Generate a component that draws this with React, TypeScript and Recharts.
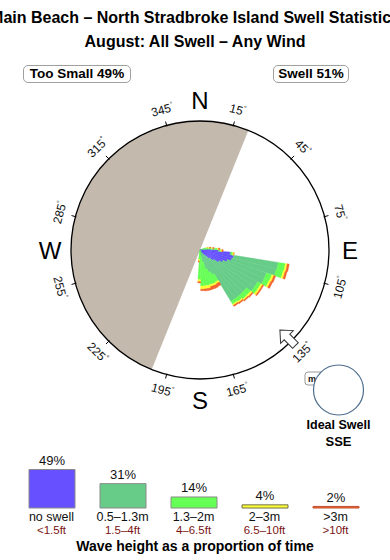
import React from 'react';
import {
  PieChart, Pie, RadialBarChart, RadialBar, PolarAngleAxis, PolarRadiusAxis,
  BarChart, Bar, XAxis, YAxis, LabelList, Cell,
} from 'recharts';

const TITLE = 'Main Beach – North Stradbroke Island Swell Statistics';
const SUBTITLE = 'August: All Swell – Any Wind';
const TOO_SMALL_PCT = 49;
const SWELL_PCT = 51;

// swell rose, 5 degree bins (bearing where each bin starts)
const ROSE_DIRS = [70, 75, 80, 85, 90, 95, 100, 105, 110, 115, 120, 125, 130, 135, 140, 145, 150, 155, 160, 165, 170, 175, 180, 185];
const ROSE_NO_SWELL = [0, 0, 0.3, 1.6, 2.8, 4.7, 5.3, 5.1, 4.5, 3.9, 3.4, 2.6, 1.9, 1.2, 0.8, 0.5, 0, 0, 0, 0, 0, 0, 0, 0];
const ROSE_SMALL = [0.5, 0.8, 0.9, 0.6, 0.2, 0.2, 7.0, 7.1, 6.4, 7.0, 6.8, 7.6, 7.4, 8.1, 8.5, 8.8, 4.3, 3.7, 3.1, 1.9, 0.9, 0.5, 0.3, 0.2];
const ROSE_MEDIUM = [0.5, 0.5, 0.6, 0.5, 0.2, 0.2, 1.1, 1.1, 0.9, 0.8, 0.6, 0.6, 0.8, 0.8, 0.6, 0.5, 1.2, 1.9, 2.5, 3.7, 4.7, 5.1, 4.3, 1.2];
const ROSE_LARGE = [0.2, 0.2, 0.2, 0.2, 0.2, 0.2, 0.3, 0.3, 0.3, 0.3, 0.3, 0.3, 0.3, 0.2, 0.2, 0.2, 0.3, 0.3, 0.3, 0.5, 0.5, 0.5, 0.3, 0.3];
const ROSE_HUGE = [0, 0.2, 0.2, 0.2, 0.2, 0, 0.3, 0.3, 0.3, 0.3, 0.2, 0.2, 0.2, 0.2, 0.2, 0.2, 0.5, 0.5, 0.5, 0.3, 0.3, 0.2, 0.2, 0.2];
const ROSE_MAX = 20;

// shaded land half (bearings)
const LAND_FROM = 202;
const LAND_TO = 22;

const DEGREE_LABELS = [15, 45, 75, 105, 135, 165, 195, 225, 255, 285, 315, 345];
const COMPASS_DIRS = [0, 90, 180, 270];
const COMPASS_LABELS = ['N', 'E', 'S', 'W'];

const IDEAL_DIR = 'SSE';
const IDEAL_ARROW_BEARING = 135;

const HEIGHT_BANDS = ['no swell', '0.5–1.3m', '1.3–2m', '2–3m', '>3m'];
const HEIGHT_FEET = ['<1.5ft', '1.5–4ft', '4–6.5ft', '6.5–10ft', '>10ft'];
const HEIGHT_PCT = [49, 31, 14, 4, 2];

const COLORS = ['#6650ff', '#66cc88', '#66ff55', '#ffff33', '#f2622e'];
const LEGEND_STROKES = ['#8a8a8a', '#8a8a8a', '#8a8a8a', '#6e6e50', '#c4502e'];
const LAND = '#c4b9ad';

const CX = 200;
const CY = 250;
const R = 129;

const roseData = Array.from({ length: 72 }, (_, i) => {
  const dir = i * 5;
  const k = ROSE_DIRS.indexOf(dir);
  return {
    dir,
    none: k < 0 ? 0 : ROSE_NO_SWELL[k],
    small: k < 0 ? 0 : ROSE_SMALL[k],
    medium: k < 0 ? 0 : ROSE_MEDIUM[k],
    large: k < 0 ? 0 : ROSE_LARGE[k],
    huge: k < 0 ? 0 : ROSE_HUGE[k],
  };
});
const roseKeys = ['none', 'small', 'medium', 'large', 'huge'];

const legendData = HEIGHT_BANDS.map((band, i) => ({ band, feet: HEIGHT_FEET[i], pct: HEIGHT_PCT[i] }));

const polar = (cx: number, cy: number, r: number, bearing: number) => {
  const a = (bearing * Math.PI) / 180;
  return { x: cx + r * Math.sin(a), y: cy - r * Math.cos(a) };
};

const AngleTick = (props: any) => {
  const { payload } = props;
  const cx = typeof props.cx === 'number' ? props.cx : CX;
  const cy = typeof props.cy === 'number' ? props.cy : CY;
  const b = Number(payload.value);
  const parts: React.ReactNode[] = [];
  if (DEGREE_LABELS.includes(b)) {
    const p1 = polar(cx, cy, R - 1, b);
    const p2 = polar(cx, cy, R + 4, b);
    const t = polar(cx, cy, R + 16, b);
    const rot = b >= 270 || b <= 90 ? b : b - 180;
    parts.push(<line key="l" x1={p1.x} y1={p1.y} x2={p2.x} y2={p2.y} stroke="#000" strokeWidth={1} />);
    parts.push(
      <text key="t" x={t.x} y={t.y} transform={`rotate(${rot} ${t.x} ${t.y})`} textAnchor="middle"
        dominantBaseline="central" fontSize={12} fill="#111">
        {b}<tspan dy={-4} fontSize={7}>°</tspan>
      </text>
    );
  }
  const c = COMPASS_DIRS.indexOf(b);
  if (c >= 0) {
    const t = polar(cx, cy, R + 21, b);
    parts.push(
      <text key="c" x={t.x} y={t.y} textAnchor="middle" dominantBaseline="central" fontSize={24} fill="#000">
        {COMPASS_LABELS[c]}
      </text>
    );
  }
  return <g>{parts}</g>;
};

const HeightTick = (props: any) => {
  const { x, y, payload } = props;
  const i = payload.index;
  return (
    <g>
      <text x={x} y={y + 4.5} textAnchor="middle" fontSize={12.5} fill="#111">{HEIGHT_BANDS[i]}</text>
      <text x={x} y={y + 18} textAnchor="middle" fontSize={11.5} fill="#7a1414">{HEIGHT_FEET[i]}</text>
    </g>
  );
};

const boxStyle: React.CSSProperties = {
  position: 'absolute', top: 65, height: 16, border: '1px solid #a0a0a0', borderRadius: 5,
  fontSize: 13.5, fontWeight: 'bold', lineHeight: '16px', textAlign: 'center', background: '#fff',
};

const arrowTip = polar(CX, CY, 113, IDEAL_ARROW_BEARING);

export default function App() {
  return (
    <div style={{ position: 'absolute', left: 0, top: 0, width: 390, height: 560, overflow: 'hidden', background: '#fff', fontFamily: '"Liberation Sans", Arial, sans-serif', color: '#000' }}>
      <div style={{ position: 'absolute', left: -105, width: 600, top: 9, textAlign: 'center', fontSize: 16, fontWeight: 'bold', whiteSpace: 'nowrap' }}>{TITLE}</div>
      <div style={{ position: 'absolute', left: -105, width: 600, top: 33, textAlign: 'center', fontSize: 16, fontWeight: 'bold', whiteSpace: 'nowrap' }}>{SUBTITLE}</div>
      <div style={{ ...boxStyle, left: 23, width: 106 }}>Too Small {TOO_SMALL_PCT}%</div>
      <div style={{ ...boxStyle, left: 273, width: 74 }}>Swell {SWELL_PCT}%</div>

      <div style={{ position: 'absolute', left: 0, top: 0 }}>
        <PieChart width={390} height={440} margin={{ top: 0, right: 0, bottom: 0, left: 0 }}>
          <Pie data={[{ name: 'land', value: 1 }]} dataKey="value" cx={CX} cy={CY} innerRadius={0} outerRadius={R}
            startAngle={90 - LAND_TO} endAngle={90 - LAND_TO + ((LAND_TO - LAND_FROM + 360) % 360)}
            fill={LAND} stroke="none" isAnimationActive={false} />
        </PieChart>
      </div>

      <div style={{ position: 'absolute', left: 0, top: 0 }}>
        {/* recharts shifts category angle bands by 4 degrees, so the range starts 4 degrees back */}
        <RadialBarChart width={390} height={440} data={roseData} layout="centric" cx={CX} cy={CY}
          innerRadius={0} outerRadius={R} startAngle={86} endAngle={-274} barCategoryGap={0} barGap={0}
          margin={{ top: 0, right: 0, bottom: 0, left: 0 }}>
          <PolarAngleAxis dataKey="dir" type="category" axisLineType="circle" axisLine={{ stroke: '#000', strokeWidth: 1.3 }}
            tickLine={false} tick={<AngleTick />} />
          <PolarRadiusAxis type="number" domain={[0, ROSE_MAX]} allowDataOverflow tick={false} axisLine={false} />
          {roseKeys.map((k, i) => (
            <RadialBar key={k} dataKey={k} stackId="rose" fill={COLORS[i]} stroke={COLORS[i]} strokeWidth={0.4}
              isAnimationActive={false} />
          ))}
        </RadialBarChart>
      </div>

      <svg width={390} height={560} style={{ position: 'absolute', left: 0, top: 0, pointerEvents: 'none' }}>
        <polygon points="0,0 9,10 4,10 4,22 -4,22 -4,10 -9,10" fill="#fff" stroke="#333" strokeWidth={1}
          transform={`translate(${arrowTip.x} ${arrowTip.y}) rotate(${IDEAL_ARROW_BEARING + 180})`} />
        <rect x={305} y={372} width={22} height={13} rx={3} fill="#fff" stroke="#999" />
        <text x={308} y={382} fontSize={9} fontWeight="bold" fill="#111">m</text>
        <circle cx={338.5} cy={390} r={25} fill="#fff" stroke="#4e6e8e" strokeWidth={1.2} />
        <text x={338.5} y={429} textAnchor="middle" fontSize={12.5} fontWeight="bold">Ideal Swell</text>
        <text x={338.5} y={446} textAnchor="middle" fontSize={13} fontWeight="bold">{IDEAL_DIR}</text>
      </svg>

      <div style={{ position: 'absolute', left: 0, top: 440 }}>
        <BarChart width={390} height={110} data={legendData} margin={{ top: 28.7, right: 19, bottom: 0, left: 16 }}>
          <XAxis dataKey="band" height={42} axisLine={false} tickLine={false} interval={0} tick={<HeightTick />} />
          <YAxis hide domain={[0, 50]} />
          <Bar dataKey="pct" barSize={46} strokeWidth={1} isAnimationActive={false}>
            {legendData.map((d, i) => <Cell key={d.band} fill={COLORS[i]} stroke={LEGEND_STROKES[i]} />)}
            <LabelList dataKey="pct" position="top" offset={4.5} fontSize={13} fill="#111" formatter={(v: any) => `${v}%`} />
          </Bar>
        </BarChart>
      </div>

      <div style={{ position: 'absolute', left: 0, width: 390, top: 538, textAlign: 'center', fontSize: 14, fontWeight: 'bold' }}>
        Wave height as a proportion of time
      </div>
    </div>
  );
}
